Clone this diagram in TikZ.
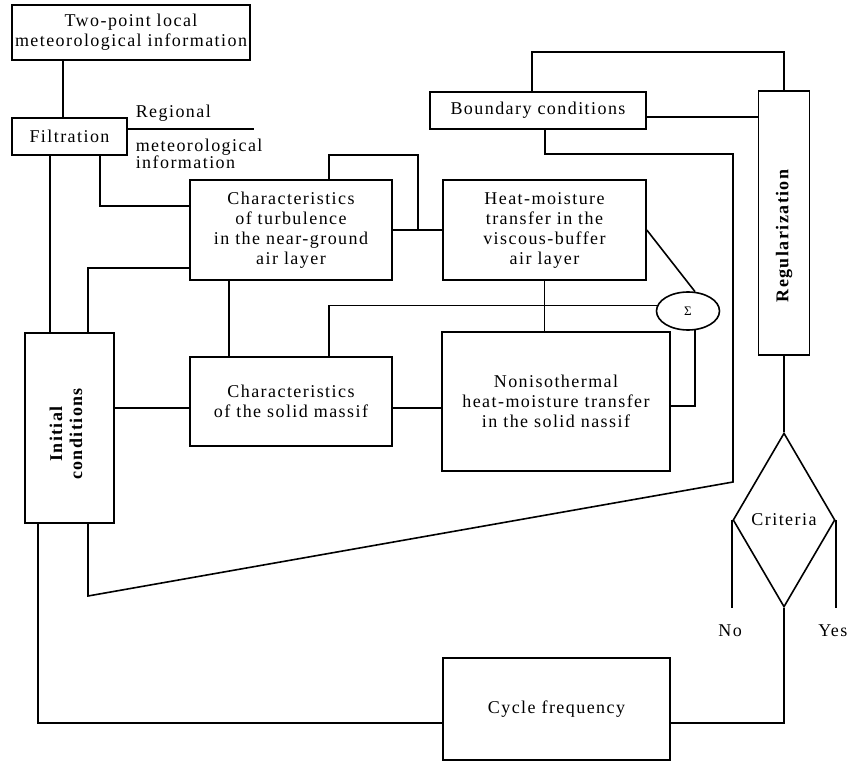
\documentclass[tikz,border=0pt]{standalone}
\usepackage{fontspec}
\setmainfont{Liberation Serif}[LetterSpace = 8.0]
\usetikzlibrary{shapes.geometric, calc}

\begin{document}
\begin{tikzpicture}[x = 1pt, y = -1pt, line width = 1.6pt,
    font = \fontsize{18}{20}\selectfont,
    blk/.style = {draw, align = center, inner sep = 0pt}]
  \useasboundingbox (0,0) rectangle (848,762);
  \node [blk, minimum width = 238, minimum height = 55] (two) at (131,32.5)
    {Two-point local\\meteorological information};
  \node [blk, minimum width = 115, minimum height = 37] (filt) at (69.5,136.5) {Filtration};
  \node [blk, minimum width = 202, minimum height = 100] (turb) at (291,230)
    {Characteristics\\of turbulence\\in the near-ground\\air layer};
  \node [blk, minimum width = 203, minimum height = 100] (heat) at (544.5,230)
    {Heat-moisture\\transfer in the\\viscous-buffer\\air layer};
  \node [blk, minimum width = 202, minimum height = 89] (solid) at (291,401.5)
    {Characteristics\\of the solid massif};
  \node [blk, minimum width = 228, minimum height = 139] (noniso) at (556,401.5)
    {Nonisothermal\\heat-moisture transfer\\in the solid nassif};
  \node [blk, minimum width = 89, minimum height = 190] (init) at (69.5,428) {};
  \node [rotate = 90, align = center, font = \fontsize{18}{20}\selectfont\bfseries]
    (initt) at (66,434) {Initial\\conditions};
  \node [blk, minimum width = 216, minimum height = 37] (bound) at (538,110.5) {Boundary conditions};
  \node [blk, minimum width = 51, minimum height = 264] (reg) at (784,223) {};
  \node [rotate = 90, font = \fontsize{18}{20}\selectfont\bfseries] (regt) at (784,236) {Regularization};
  \node [draw, ellipse, minimum width = 63, minimum height = 38, inner sep = 0pt,
    font = \fontsize{13}{13}\selectfont] (sig) at (688,311) {Σ};
  \node [draw, diamond, aspect = 0.5, inner sep = 0pt, minimum width = 102,
    minimum height = 174] (crit) at (784,520) {Criteria};
  \node [blk, minimum width = 227, minimum height = 102] (cyc) at (556.5,709) {Cycle frequency};
  \node [anchor = base west, inner sep = 0pt] (rgnl) at (135,118) {Regional};
  \node [anchor = north west, inner sep = 0pt, align = left,
    font = \fontsize{18}{17}\selectfont] (rgni) at (135,138) {meteorological\\information};
  \coordinate (bt) at (733,154);
  \coordinate (bb) at (733,482);
  \coordinate (bl) at (88,596);

  \draw ($(two.south)+(-68,0)$) -- ($(filt.north)+(-6.5,0)$);
  \draw ($(filt.east)+(0,-7.5)$) -- ++(126,0) coordinate (rgn);
  \draw ($(filt.south)+(-19.5,0)$) -- ($(init.north)+(-19.5,0)$);
  \draw ($(filt.south)+(30.5,0)$) |- ($(turb.west)+(0,-24)$);
  \draw ($(init.north)+(18.5,0)$) |- ($(turb.west)+(0,38)$);
  \draw (turb.east) -- (heat.west);
  \draw ($(turb.north)+(38,0)$) |- ($(turb.east)+(25,-75)$) -- ($(turb.east)+(25,0)$);
  \draw ($(turb.south)+(-62,0)$) -- ($(solid.north)+(-62,0)$);
  \draw ($(init.east)+(0,-20)$) -- ($(solid.west)+(0,6.5)$);
  \draw ($(solid.east)+(0,6.5)$) -- ($(noniso.west)+(0,6.5)$);
  \draw (heat.south) -- ($(noniso.north)+(-11.5,0)$);
  \draw (heat.east) -- (sig.70);
  \draw (sig.170) -| ($(solid.north)+(38,0)$);
  \draw (sig.-70) |- ($(noniso.east)+(0,4.5)$);
  \draw ($(bound.north)+(-6,0)$) |- ($(reg.north)+(0,-38)$) -- (reg.north);
  \draw ($(bound.east)+(0,6.5)$) -- ($(reg.west)+(0,-106)$);
  \draw ($(bound.south)+(7,0)$) |- (bt) -- (bb) -- (bl) -- ($(init.south)+(18.5,0)$);
  \draw (reg.south) -- (crit.north);
  \draw (crit.west) -- (crit.west |- crit.south) coordinate (no);
  \draw (crit.east) -- (crit.east |- crit.south) coordinate (yes);
  \node (nol) at ($(no)+(-2,23)$) {No};
  \node (yesl) at ($(yes)+(-3,23)$) {Yes};
  \draw (crit.south) |- ($(cyc.east)+(0,14)$);
  \draw ($(cyc.west)+(0,14)$) -| ($(init.south)+(-31.5,0)$);
\end{tikzpicture}
\end{document}
